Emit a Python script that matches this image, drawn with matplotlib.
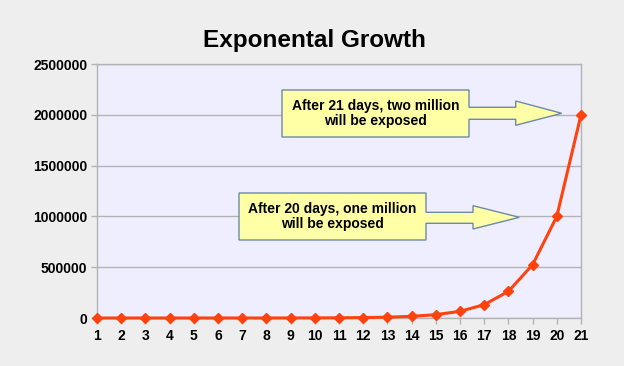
import matplotlib
matplotlib.use("Agg")
import matplotlib.pyplot as plt
from matplotlib.patches import Polygon

days = list(range(1, 22))
exposed = [2, 4, 8, 16, 32, 64, 128, 256, 512, 1024, 2048, 4096, 8192,
           16384, 32768, 65536, 131072, 262144, 524288, 1000000, 2000000]
yticks = [0, 500000, 1000000, 1500000, 2000000, 2500000]
title = "Exponental Growth"
notes = ["After 21 days, two million\nwill be exposed",
         "After 20 days, one million\nwill be exposed"]

plt.rcParams['font.family'] = ['Liberation Sans', 'DejaVu Sans']

W, H = 624, 366
fig = plt.figure(figsize=(W / 100, H / 100), dpi=100)
fig.patch.set_facecolor('#eeeeee')
ax = fig.add_axes([97 / W, 1 - 318 / H, (581 - 97) / W, (318 - 64) / H])
ax.set_facecolor('#eeeeff')

ax.plot(days, exposed, color='#ff420e', lw=2.2, marker='D', ms=5.5,
        mec='#ff420e', mfc='#ff420e', zorder=3, clip_on=False)

ax.set_xlim(1, 21)
ax.set_ylim(0, 2500000)
ax.set_xticks(days)
ax.set_xticklabels([str(d) for d in days])
ax.set_yticks(yticks)
ax.set_yticklabels([str(v) for v in yticks])
ax.yaxis.grid(True, color='#b3b3b3', lw=1)
ax.set_axisbelow(True)
for s in ax.spines.values():
    s.set_color('#b3b3b3')
    s.set_linewidth(1)
ax.tick_params(axis='both', colors='#b3b3b3', length=4, width=1,
               labelcolor='black', labelsize=10)
ax.tick_params(axis='y', pad=3)
ax.tick_params(axis='x', pad=4)
for lab in ax.get_xticklabels() + ax.get_yticklabels():
    lab.set_fontweight('bold')

fig.text(314 / W, 1 - 40 / H, title, ha='center', va='center',
         fontsize=17.5, fontweight='bold')


def callout(bx0, bx1, by0, by1, sy0, sy1, hx, hy0, hy1, tx, ty, text):
    pts = [(bx0, by0), (bx1, by0), (bx1, sy0), (hx, sy0), (hx, hy0),
           (tx, ty), (hx, hy1), (hx, sy1), (bx1, sy1), (bx1, by1), (bx0, by1)]
    pts = [(x / W, 1 - y / H) for x, y in pts]
    fig.patches.append(Polygon(pts, closed=True, transform=fig.transFigure,
                               facecolor='#ffffa6', edgecolor='#6d8aa6',
                               lw=1, zorder=5))
    fig.text((bx0 + bx1) / 2 / W, 1 - (by0 + by1) / 2 / H, text,
             ha='center', va='center', fontsize=10, fontweight='bold',
             linespacing=1.15, zorder=6)


callout(282, 469, 90, 137, 107.3, 119.3, 515.7, 101, 125.3, 561.7, 113.3, notes[0])
callout(239, 426, 193, 240, 212.3, 223.3, 473, 205.7, 229, 519.3, 217.3, notes[1])

fig.savefig('out.png', dpi=100, facecolor=fig.get_facecolor())
